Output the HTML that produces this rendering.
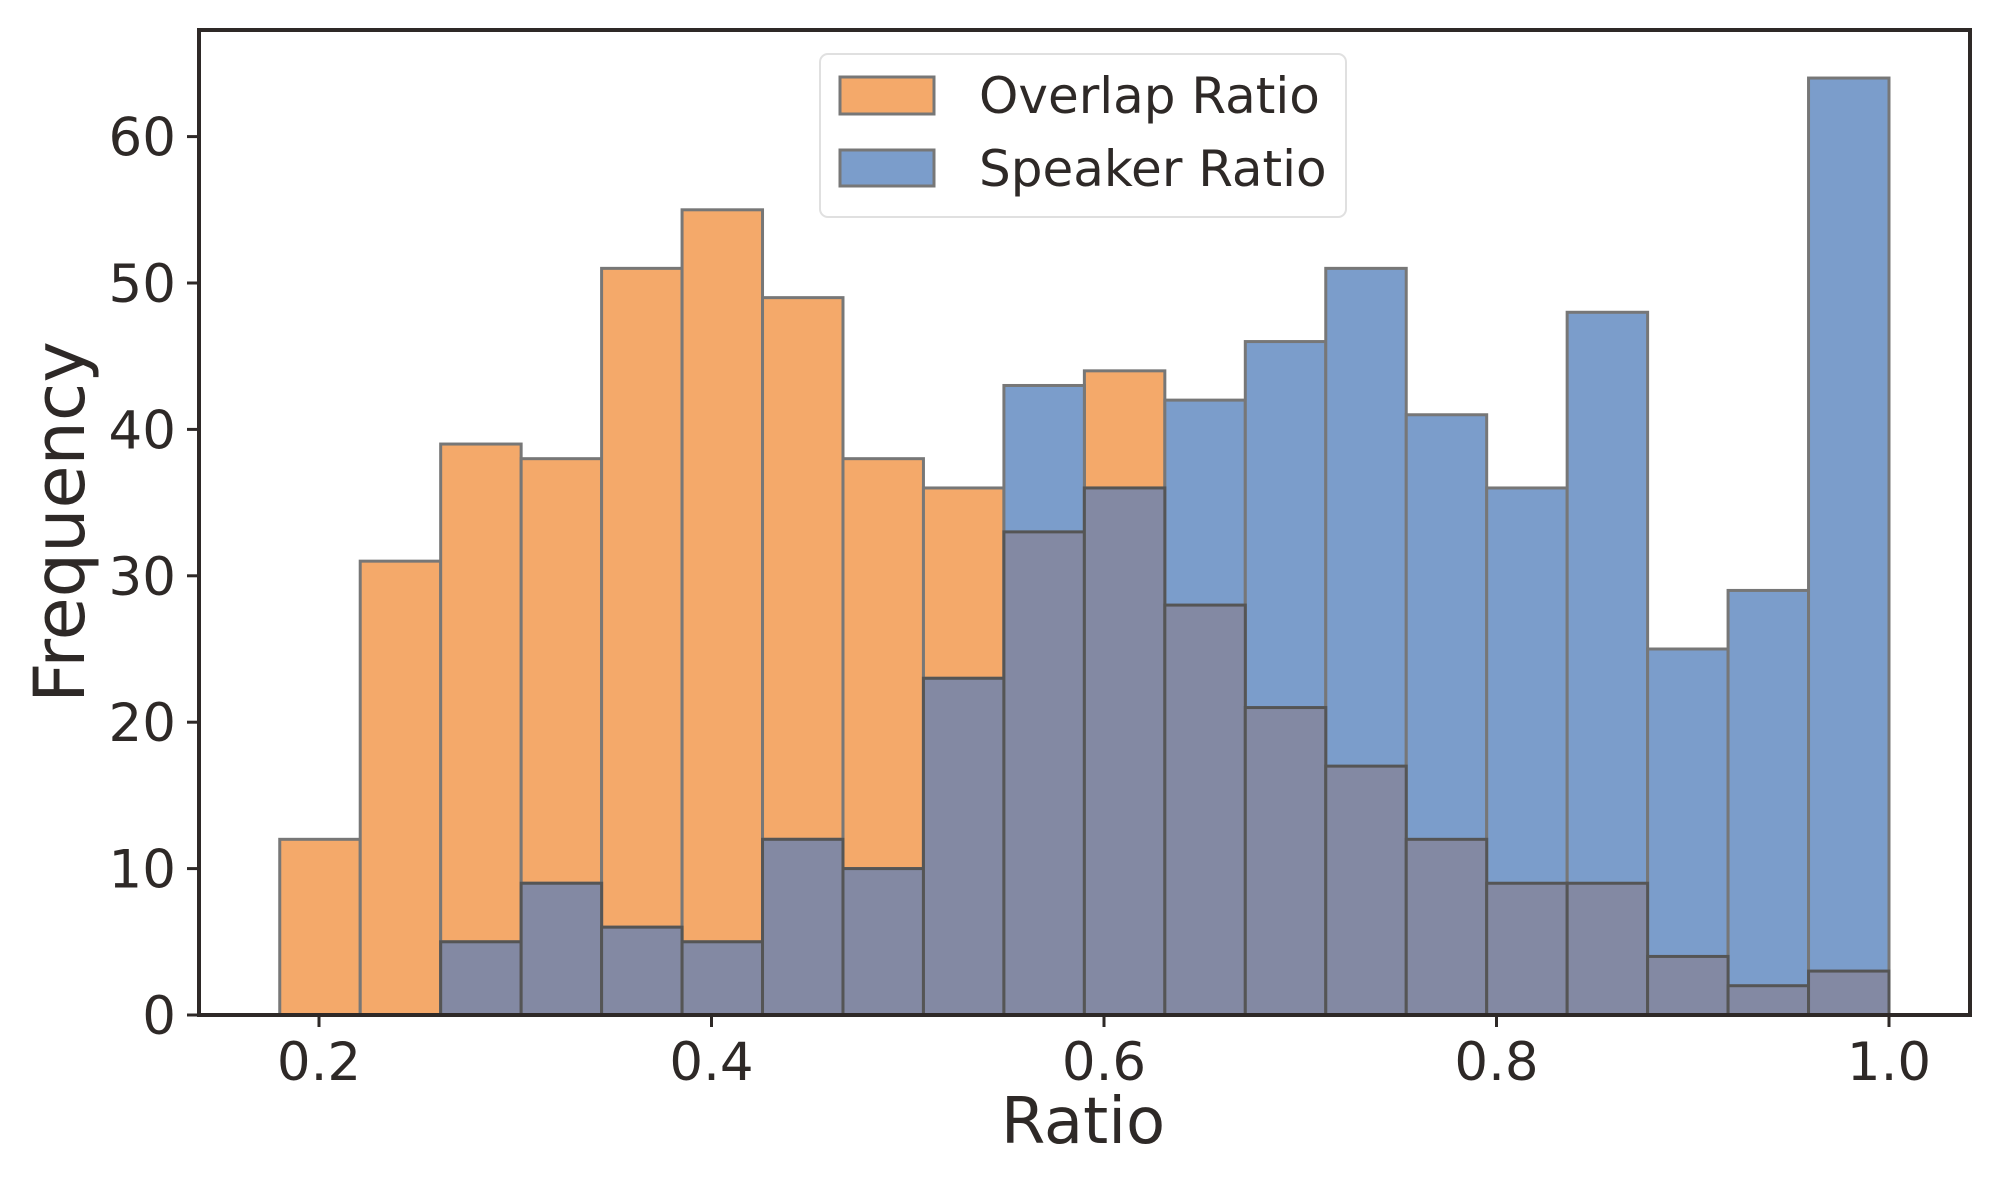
<!DOCTYPE html>
<html><head><meta charset="utf-8"><style>
html,body{margin:0;padding:0;background:#fff;}
svg{display:block;font-family:"DejaVu Sans","Liberation Sans",sans-serif;}
</style></head><body>
<svg id="chart" width="2000" height="1200" viewBox="0 0 2000 1200">
<g id="bars"></g>
<rect x="199" y="30" width="1771" height="985" fill="none" stroke="#2e2927" stroke-width="4"/>
<g id="ticks"></g>
<text x="1083" y="1143" font-size="64" text-anchor="middle" fill="#2e2927">Ratio</text>
<text transform="translate(84,522) rotate(-90)" font-size="70" text-anchor="middle" fill="#2e2927">Frequency</text>
<g>
<rect x="820" y="54" width="526" height="163" rx="8" fill="#fff" stroke="#e0e0e0" stroke-width="2"/>
<rect x="840" y="77" width="94" height="37" fill="#f4a96a" stroke="#777" stroke-width="3"/>
<text x="979" y="113" font-size="50" fill="#2e2927">Overlap Ratio</text>
<rect x="840" y="150" width="94" height="36" fill="#7b9dcb" stroke="#777" stroke-width="3"/>
<text x="979" y="186" font-size="50" fill="#2e2927">Speaker Ratio</text>
</g>
</svg>
<script>
const binStart = 0.18;
const binWidth = 0.041;
const overlapCounts = [12,31,39,38,51,55,49,38,36,33,44,28,21,17,12,9,9,4,2,3];
const speakerCounts = [0,0,5,9,6,5,12,10,23,43,36,42,46,51,41,36,48,25,29,64];
const xTicks = [0.2,0.4,0.6,0.8,1.0];
const xTickLabels = ["0.2","0.4","0.6","0.8","1.0"];
const yTicks = [0,10,20,30,40,50,60];

const NS = "http://www.w3.org/2000/svg";
function xs(v){ return 319 + (v - 0.2) * 1962.5; }
function ys(v){ return 1015 - v * 14.64; }
const bars = document.getElementById('bars');
function drawSeries(counts, fill, stroke, name){
  counts.forEach((c,i)=>{
    if(c<=0) return;
    const x0 = xs(binStart + i*binWidth), x1 = xs(binStart + (i+1)*binWidth);
    const r = document.createElementNS(NS,'rect');
    r.setAttribute('x', x0); r.setAttribute('width', x1-x0);
    r.setAttribute('y', ys(c)); r.setAttribute('height', ys(0)-ys(c));
    r.setAttribute('fill', fill);
    r.setAttribute('stroke', stroke); r.setAttribute('stroke-width', '3');
    
    
    bars.appendChild(r);
  });
}
drawSeries(overlapCounts, '#f4a96a', '#777', 'overlap');
drawSeries(speakerCounts, '#7b9dcb', '#777', 'speaker');
drawSeries(overlapCounts.map((v,i)=>Math.min(v, speakerCounts[i])), '#8389a3', '#555', 'intersection');

const ticks = document.getElementById('ticks');
xTicks.forEach((v,i)=>{
  const l = document.createElementNS(NS,'line');
  l.setAttribute('x1', xs(v)); l.setAttribute('x2', xs(v));
  l.setAttribute('y1', 1015); l.setAttribute('y2', 1027);
  l.setAttribute('stroke', '#2e2927'); l.setAttribute('stroke-width', '3');
  
  
  ticks.appendChild(l);
  const t = document.createElementNS(NS,'text');
  t.setAttribute('x', xs(v)); t.setAttribute('y', 1080);
  t.setAttribute('font-size', '53'); t.setAttribute('text-anchor', 'middle'); t.setAttribute('fill', '#2e2927');
  t.textContent = xTickLabels[i];
  
  
  ticks.appendChild(t);
});
yTicks.forEach(v=>{
  const l = document.createElementNS(NS,'line');
  l.setAttribute('x1', 187); l.setAttribute('x2', 199);
  l.setAttribute('y1', ys(v)); l.setAttribute('y2', ys(v));
  l.setAttribute('stroke', '#2e2927'); l.setAttribute('stroke-width', '3');
  
  
  ticks.appendChild(l);
  const t = document.createElementNS(NS,'text');
  t.setAttribute('x', 176); t.setAttribute('y', ys(v) + 19);
  t.setAttribute('font-size', '53'); t.setAttribute('text-anchor', 'end'); t.setAttribute('fill', '#2e2927');
  t.textContent = String(v);
  
  
  ticks.appendChild(t);
});
</script>
</body></html>
